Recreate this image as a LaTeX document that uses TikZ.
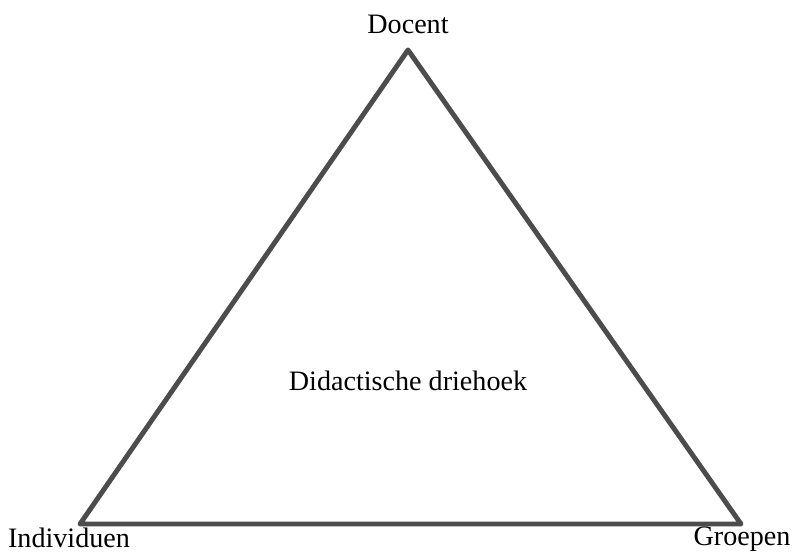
\documentclass[tikz,border=0pt]{standalone}
\usepackage{fontspec}
\setmainfont{Liberation Serif}
\usetikzlibrary{positioning}
\tikzstyle{side}=[draw=black!70,line width=3.5pt,line join=round,line cap=round]
\tikzstyle{corner label}=[inner sep=0pt,anchor=base,font=\fontsize{20}{24}\selectfont]

\begin{document}
\begin{tikzpicture}[x=0.025cm,y=0.025cm]
  \useasboundingbox (0,0) rectangle (797,553);
  \coordinate (top)   at (408,503);
  \coordinate (left)  at (80,29);
  \coordinate (right) at (741,29);

  \draw[side] (top) -- (left) -- (right) -- cycle;

  \node[corner label] (docent)     at (408,519) {Docent};
  \node[corner label] (individuen) at (69,5)    {Individuen};
  \node[corner label] (groepen)    at (742,7)   {Groepen};
  \node[corner label] (centre)     at (408,162) {Didactische driehoek};
\end{tikzpicture}
\end{document}
